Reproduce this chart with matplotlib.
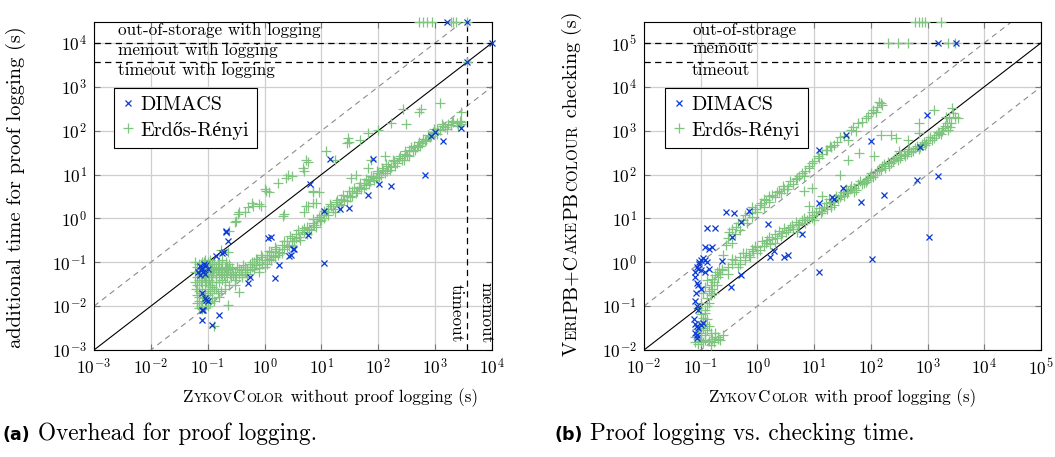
import numpy as np
import matplotlib
matplotlib.use("Agg")
import matplotlib.pyplot as plt
import matplotlib.transforms as mtransforms
from matplotlib.lines import Line2D

plt.rcParams["font.family"] = ["cmr10", "Liberation Serif"]
plt.rcParams["mathtext.fontset"] = "cm"
plt.rcParams["axes.formatter.use_mathtext"] = True

GREEN = "#7fc47f"
BLUE = "#0b3bd4"

# limits (s): timeout / memout / out-of-storage rows
TIMEOUT_A, MEMOUT_A, OOS_A = 3600, 1e4, 3e4
TIMEOUT_B, MEMOUT_B, OOS_B = 36000, 1e5, 3e5

# ---- (a) x: ZykovColor without logging, y: extra time with logging ----
er_a = [
    # dense cluster at small instances
    (0.06, 0.1), (0.065, 0.08), (0.06, 0.06), (0.065, 0.045), (0.06, 0.035), (0.062, 0.025),
    (0.065, 0.018), (0.07, 0.013), (0.075, 0.01), (0.08, 0.0085), (0.09, 0.009), (0.1, 0.01),
    (0.11, 0.012), (0.12, 0.015), (0.1, 0.02), (0.09, 0.025), (0.08, 0.03), (0.07, 0.04),
    (0.075, 0.055), (0.085, 0.045), (0.095, 0.035), (0.11, 0.03), (0.13, 0.025), (0.15, 0.02),
    (0.17, 0.022), (0.14, 0.035), (0.12, 0.045), (0.1, 0.055), (0.09, 0.07), (0.1, 0.085),
    (0.12, 0.075), (0.14, 0.06), (0.16, 0.05), (0.18, 0.04), (0.2, 0.035), (0.22, 0.045),
    (0.19, 0.06), (0.17, 0.075), (0.15, 0.09), (0.13, 0.1), (0.2, 0.08), (0.23, 0.065),
    (0.25, 0.055), (0.28, 0.05), (0.3, 0.06), (0.27, 0.075), (0.24, 0.09), (0.21, 0.1),
    (0.18, 0.11), (0.11, 0.11), (0.085, 0.1), (0.07, 0.09), (0.072, 0.07), (0.078, 0.02),
    (0.085, 0.015), (0.095, 0.013), (0.13, 0.013), (0.16, 0.016), (0.2, 0.025), (0.24, 0.03),
    (0.13, 0.0036), (0.23, 0.0104), (0.36, 0.021), (0.3, 0.03), (0.5, 0.045), (0.8, 0.06),
    (0.065, 0.03), (0.07, 0.022), (0.075, 0.035), (0.08, 0.05), (0.085, 0.06), (0.09, 0.04),
    (0.095, 0.05), (0.1, 0.03), (0.105, 0.04), (0.11, 0.065), (0.115, 0.05), (0.12, 0.035),
    (0.125, 0.06), (0.13, 0.07), (0.14, 0.045), (0.15, 0.065), (0.16, 0.035), (0.17, 0.055),
    (0.18, 0.07), (0.19, 0.05), (0.21, 0.06), (0.22, 0.08), (0.25, 0.07), (0.26, 0.045),
    (0.07, 0.016), (0.08, 0.012), (0.09, 0.016), (0.1, 0.018), (0.11, 0.022), (0.12, 0.028),
    (0.14, 0.025), (0.075, 0.075), (0.08, 0.1), (0.09, 0.11), (0.1, 0.1), (0.12, 0.09),
    (0.14, 0.08), (0.16, 0.1), (0.065, 0.012), (0.07, 0.009),
    # main band
    (0.32, 0.045), (0.35, 0.055), (0.38, 0.065), (0.33, 0.08), (0.4, 0.05), (0.45, 0.06),
    (0.5, 0.07), (0.42, 0.085), (0.55, 0.09), (0.6, 0.08), (0.65, 0.1), (0.7, 0.085),
    (0.75, 0.12), (0.8, 0.1), (0.9, 0.13), (1.0, 0.11), (1.0, 0.08), (1.1, 0.15), (1.2, 0.12),
    (1.3, 0.17), (1.4, 0.14), (1.6, 0.2), (1.8, 0.17), (2.0, 0.25), (2.2, 0.2), (2.5, 0.3),
    (2.7, 0.24), (3.0, 0.35), (3.3, 0.3), (3.6, 0.45), (4.0, 0.38), (4.5, 0.55), (5.0, 0.48),
    (5.5, 0.65), (6.0, 0.57), (7.0, 0.8), (7.5, 0.7), (8.5, 0.95), (9.5, 0.85), (10, 1.2),
    (11, 1.0), (12, 1.4), (13, 1.6), (15, 1.9), (16, 1.6), (18, 2.4), (20, 2.1), (22, 2.8),
    (25, 2.6), (28, 3.3), (32, 3.0), (35, 4.2), (40, 3.8), (45, 5.2), (50, 4.6), (55, 6.5),
    (60, 5.8), (65, 7.5), (72, 7.0), (80, 9), (90, 8.5), (100, 11), (110, 10), (120, 13),
    (140, 12), (150, 16), (170, 15), (190, 20), (210, 18), (230, 24), (260, 22), (290, 30),
    (320, 28), (350, 36), (400, 34), (430, 45), (480, 42), (520, 55), (580, 52), (620, 65),
    (700, 62), (750, 80), (850, 75), (900, 95), (1000, 90), (1100, 110), (1200, 105),
    (1350, 125), (1500, 120), (1700, 140), (1900, 135), (2100, 155), (2400, 150), (2700, 170),
    (2900, 145), (2800, 265), (2900, 155),
    (0.3, 0.04), (0.35, 0.07), (0.4, 0.045), (0.45, 0.08), (0.5, 0.055), (0.55, 0.065),
    (0.6, 0.1), (0.65, 0.07), (0.7, 0.12), (0.8, 0.075), (0.85, 0.15), (0.9, 0.09), (1.1, 0.09),
    (1.2, 0.18), (1.3, 0.11), (1.5, 0.13), (1.5, 0.22), (1.7, 0.15), (2.0, 0.16), (2.2, 0.3),
    (2.5, 0.22), (2.8, 0.4), (3.0, 0.25), (3.5, 0.35), (3.8, 0.55), (4.2, 0.32), (5, 0.6),
    (5.5, 0.45), (6.5, 0.55), (7, 0.95), (8, 0.65), (9, 1.1), (10, 0.9), (11, 1.5), (13, 1.2),
    (14, 2.1), (17, 1.4), (19, 2.6), (22, 2.0), (24, 3.4), (28, 2.5), (30, 4.2), (35, 3.2),
    (38, 5), (42, 4.2), (48, 6.5), (55, 5), (60, 8), (68, 6.2), (75, 9.5), (85, 7.5), (95, 12),
    (105, 9), (115, 14), (130, 11), (135, 17), (160, 13), (180, 22), (200, 16), (240, 27),
    (280, 21), (300, 34), (340, 26), (380, 42), (450, 36), (500, 48), (550, 45), (650, 58),
    (800, 70), (950, 110), (1100, 85), (1300, 140), (1600, 110), (2000, 170), (2500, 130),
    # upper group (logging expensive)
    (270, 310), (530, 270), (565, 310), (1240, 420), (310, 145), (170, 148), (98, 105),
    (66, 89), (29, 68), (31, 55), (28, 52), (47, 62), (12, 34), (17, 22), (5.4, 22), (5.8, 19),
    (4.7, 14), (5, 12), (2.6, 10), (3, 9.3), (2.4, 8.5), (1.7, 6.5), (1.0, 4.6), (1.2, 3.9),
    (7, 3.9), (0.59, 2.3), (0.63, 1.95), (0.51, 1.8), (0.87, 1.95), (0.45, 1.4), (0.34, 1.26),
    (0.3, 0.81), (2.2, 1.26), (5.8, 1.95), (8.1, 2.3), (33, 8.5), (41, 10), (66, 14), (75, 22),
    (129, 26), (1.07, 4.3), (0.81, 2.1), (0.36, 1.4), (0.32, 0.89), (0.24, 0.52), (0.23, 0.17),
    (0.17, 0.19), (2.1, 1.15), (5.4, 1.9), (7, 2.3), (5, 1.4), (9.1, 3.9), (7.1, 4.3),
    # timeout / memout / out-of-storage
    (3600, 3600), (3600, OOS_A), (520, OOS_A), (620, OOS_A), (730, OOS_A), (880, OOS_A),
    (1900, OOS_A), (2100, OOS_A), (2300, OOS_A),
]
dimacs_a = [
    (0.068, 0.059), (0.072, 0.081), (0.075, 0.065), (0.078, 0.07), (0.08, 0.075), (0.083, 0.06),
    (0.085, 0.09), (0.089, 0.054), (0.095, 0.087), (0.1, 0.07), (0.074, 0.05), (0.08, 0.02),
    (0.09, 0.015), (0.1, 0.013), (0.095, 0.0135), (0.078, 0.008), (0.083, 0.0083),
    (0.078, 0.0049), (0.16, 0.0062), (0.12, 0.0038), (0.14, 0.14), (0.19, 0.17), (0.21, 0.52),
    (0.23, 0.3), (0.18, 0.16), (0.21, 0.49), (0.55, 0.047), (0.51, 0.034), (1.55, 0.044),
    (1.8, 0.087), (2.7, 0.14), (3.2, 0.2), (1.15, 0.36), (11, 0.096), (5.8, 0.41), (6.3, 6.0),
    (1.3, 0.37), (3.3, 0.2), (2.9, 0.15), (11, 1.5), (14, 23), (80, 23), (105, 6.0), (170, 5.6),
    (66, 3.4), (670, 9.8), (1000, 95), (850, 76), (1400, 57), (2900, 115), (21, 1.6), (31, 1.7),
    (3600, 3600), (MEMOUT_A, MEMOUT_A), (1600, OOS_A), (3600, OOS_A),
]

# ---- (b) x: ZykovColor with logging, y: checking time ----
er_b = [
    # bottom cluster
    (0.08, 0.015), (0.09, 0.014), (0.1, 0.016), (0.11, 0.015), (0.12, 0.017), (0.14, 0.016),
    (0.16, 0.018), (0.18, 0.02), (0.08, 0.02), (0.09, 0.022), (0.1, 0.025), (0.12, 0.022),
    (0.13, 0.028), (0.15, 0.024), (0.085, 0.03), (0.095, 0.035), (0.11, 0.032), (0.12, 0.04),
    (0.14, 0.035), (0.1, 0.045), (0.11, 0.055), (0.13, 0.05), (0.1, 0.065), (0.12, 0.07),
    (0.09, 0.018), (0.17, 0.015), (0.2, 0.018), (0.22, 0.017), (0.25, 0.022), (0.18, 0.025),
    (0.15, 0.013), (0.2, 0.02),
    # vertical column
    (0.12, 0.08), (0.13, 0.1), (0.14, 0.12), (0.13, 0.15), (0.15, 0.18), (0.14, 0.22),
    (0.16, 0.25), (0.15, 0.3), (0.17, 0.35), (0.16, 0.42), (0.18, 0.5), (0.2, 0.45), (0.19, 0.6),
    (0.22, 0.55), (0.21, 0.7), (0.24, 0.65), (0.1, 0.12), (0.11, 0.2), (0.12, 0.28),
    (0.13, 0.4), (0.17, 0.2), (0.19, 0.3), (0.09, 0.09),
    # main band
    (0.24, 0.69), (0.3, 0.8), (0.35, 0.9), (0.4, 1.1), (0.5, 1.3), (0.62, 1.66), (0.7, 1.5),
    (0.8, 2.0), (0.9, 2.4), (1.0, 2.2), (1.2, 3.1), (1.4, 2.8), (1.6, 3.8), (1.8, 3.4),
    (2.0, 4.5), (2.4, 5.2), (2.7, 4.6), (3.0, 6), (3.5, 5.5), (4, 7), (4.8, 8.1), (5.5, 7.5),
    (6.5, 10), (7.5, 9), (9.3, 13.7), (10, 12), (12, 17), (14, 15), (16, 22), (18, 28),
    (20, 24), (24, 32), (28, 30), (32, 40), (36, 47), (40, 42), (45, 55), (50, 50), (60, 62),
    (70, 60), (81, 67), (90, 85), (100, 110), (120, 100), (140, 135), (160, 155), (180, 140),
    (200, 190), (230, 180), (260, 230), (300, 210), (340, 280), (400, 260), (450, 340),
    (520, 320), (600, 400), (700, 380), (800, 500), (900, 470), (1000, 620), (1200, 600),
    (1400, 800), (1600, 890), (1800, 1000), (2000, 1300), (2400, 1900), (2200, 1500),
    (3000, 2000), (0.5, 0.9), (1, 1.6), (2, 2.8), (5, 5), (10, 9), (20, 18), (50, 40),
    (0.3, 0.55), (0.35, 1.2), (0.45, 0.8), (0.55, 1.6), (0.6, 1.1), (0.75, 1.3), (0.85, 1.8),
    (1.1, 1.9), (1.3, 2.3), (1.5, 3.2), (1.7, 2.6), (2.2, 3.6), (2.6, 4.0), (3.2, 5.0),
    (3.8, 6.5), (4.3, 5.8), (5.2, 7), (6, 9), (7, 8), (8, 11), (9, 10), (11, 14), (13, 13),
    (15, 18), (17, 16), (19, 22), (22, 20), (26, 27), (30, 35), (34, 33), (38, 38), (43, 48),
    (55, 45), (65, 70), (75, 65), (85, 75), (95, 95), (110, 90), (130, 120), (150, 130),
    (170, 170), (210, 160), (250, 200), (280, 250), (320, 240), (380, 300), (430, 290),
    (480, 380), (560, 350), (650, 450), (750, 430), (850, 560), (950, 520), (1100, 700),
    (1300, 680), (1500, 950), (1700, 850), (1900, 1150), (2600, 1500), (2800, 2500),
    (2500, 1200),
    # between the bands
    (6.6, 43), (9.3, 50), (14, 32), (8.1, 19), (28, 100), (39, 220), (62, 310), (115, 260),
    (150, 810), (225, 810), (275, 680), (450, 620), (315, 340), (710, 870), (710, 1480),
    (1300, 2950), (2100, 2100), (2750, 3240), (3400, 1900), (2250, 1050),
    # upper band
    (150, 4200), (100, 2500), (81, 1900), (44, 1050), (39, 620), (22, 480), (16, 370),
    (11.5, 260), (9.3, 185), (8.1, 142), (5.4, 93), (4.8, 80), (3.4, 55), (2.4, 43), (1.6, 32),
    (1.15, 23), (0.81, 18), (0.36, 5.7), (0.32, 4.8), (0.45, 8), (0.6, 12), (1.3, 27),
    (3.0, 47), (7, 120), (20, 420), (60, 1500), (130, 3500),
    (0.25, 1.5), (0.28, 2.5), (0.3, 3.5), (0.35, 2.8), (0.4, 4.5), (0.42, 6.5), (0.5, 5.5),
    (0.55, 9), (0.65, 8), (0.7, 13), (0.8, 11), (0.9, 16), (1.0, 14), (1.1, 20), (1.3, 18),
    (1.4, 26), (1.6, 24), (1.8, 35), (2.0, 30), (2.2, 40), (2.6, 38), (2.8, 55), (3.3, 48),
    (3.8, 70), (4.2, 62), (5, 85), (6, 110), (6.5, 95), (8, 160), (10, 200), (12, 240),
    (14, 300), (17, 360), (19, 450), (25, 560), (28, 700), (33, 750), (48, 1200), (55, 1000),
    (70, 1600), (90, 2200), (110, 3000), (125, 2700), (160, 3800), (140, 4500),
    # memout / out-of-storage
    (200, MEMOUT_B), (300, MEMOUT_B), (460, MEMOUT_B), (2300, MEMOUT_B), (3100, MEMOUT_B),
    (600, OOS_B), (700, OOS_B), (800, OOS_B), (900, OOS_B), (1700, OOS_B),
]
dimacs_b = [
    (12, 355), (36, 810), (100, 575), (960, 2300), (22, 28), (170, 34), (660, 74), (1500, 95),
    (1070, 3.7), (730, 430), (105, 1.17), (12, 0.6), (66, 24), (32, 49), (21, 30), (12, 23),
    (6.2, 4.4), (3.0, 1.35), (3.4, 1.45), (1.65, 1.3), (1.95, 1.8), (1.55, 7.4), (0.34, 0.28),
    (0.51, 0.5), (0.24, 1.07), (0.35, 3.7), (0.51, 8.3), (0.71, 15), (0.28, 14), (0.39, 13),
    (0.13, 6.2), (0.18, 6.2), (0.12, 2.2), (0.14, 2.0), (0.16, 2.2), (0.093, 1.0), (0.1, 1.1),
    (0.11, 1.26), (0.12, 1.15), (0.13, 1.0), (0.095, 0.9), (0.09, 0.7), (0.1, 0.65),
    (0.12, 0.6), (0.14, 0.7), (0.087, 0.34), (0.09, 0.3), (0.1, 0.24), (0.08, 0.13),
    (0.085, 0.1), (0.09, 0.08), (0.08, 0.04), (0.085, 0.035), (0.09, 0.032), (0.1, 0.038),
    (0.11, 0.042), (0.075, 0.05), (0.08, 0.6), (0.085, 0.8), (0.078, 0.45), (0.082, 0.2),
    (0.078, 0.025), (0.085, 0.022), (0.085, 0.019),
    (1550, MEMOUT_B), (3200, MEMOUT_B),
]

FIG_W, FIG_H = 1055, 457
fig = plt.figure(figsize=(FIG_W / 100, FIG_H / 100), dpi=100)
R = fig.canvas.get_renderer()


def px_box(x0, x1, top, bottom):
    return [x0 / FIG_W, 1 - bottom / FIG_H, (x1 - x0) / FIG_W, (bottom - top) / FIG_H]


def fit(t, target, vertical=False):
    # scale a text so that its rendered length matches the reference (pixels)
    bb = t.get_window_extent(R)
    w = bb.height if vertical else bb.width
    t.set_fontsize(t.get_fontsize() * target / w)
    return t.get_fontsize()


def setup(ax, xlim, ylim):
    ax.set_xscale("log")
    ax.set_yscale("log")
    ax.set_xlim(*xlim)
    ax.set_ylim(*ylim)
    ax.grid(True, which="major", color="#cfcfcf", linewidth=0.9)
    ax.minorticks_off()
    ax.tick_params(which="major", direction="in", top=True, right=True, length=4,
                   width=0.8, color="#777777", labelsize=12.5, pad=5)
    for s in ax.spines.values():
        s.set_linewidth(0.8)
    lims = np.array([xlim[0], xlim[1] * 10])
    ax.plot(lims, lims, color="black", lw=0.8, zorder=2)
    ax.plot(lims, lims * 10, color="#8c8c8c", lw=0.8, dashes=(5, 4), zorder=2)
    ax.plot(lims, lims / 10, color="#8c8c8c", lw=0.8, dashes=(5, 4), zorder=2)


def scatter(ax, er, dim):
    ex, ey = np.array(er).T
    dx, dy = np.array(dim).T
    ax.plot(ex, ey, ls="none", marker="+", ms=7.5, mew=0.9, color=GREEN, clip_on=False, zorder=3)
    ax.plot(dx, dy, ls="none", marker="x", ms=5, mew=0.9, color=BLUE, clip_on=False, zorder=4)


def legend(ax, anchor):
    handles = [
        Line2D([], [], ls="none", marker="x", ms=5, mew=0.9, color=BLUE),
        Line2D([], [], ls="none", marker="+", ms=7.5, mew=0.9, color=GREEN),
    ]
    leg = ax.legend(handles, ["DIMACS", "Erdős-Rényi"], loc="upper left", bbox_to_anchor=anchor,
                    fontsize=14.5, fancybox=False, edgecolor="black", framealpha=1,
                    handlelength=0.6, handletextpad=0.3, borderpad=0.4, labelspacing=0.38,
                    borderaxespad=0)
    leg.get_frame().set_linewidth(0.8)
    leg.set_zorder(6)


def pieces_text(parts, cx, cy, target, rotation=0, gap=0.8):
    # mixed-size pieces (small caps), centred on a pixel point, scaled to target length
    ident = mtransforms.IdentityTransform()
    arts = [fig.text(0, 0, s, fontsize=sz, rotation=rotation, rotation_mode="anchor",
                     ha="left", va="baseline", transform=ident) for s, sz in parts]

    def lengths():
        out = []
        for t in arts:
            bb = t.get_window_extent(R)
            out.append(bb.width if rotation == 0 else bb.height)
        return out

    scale = target / (sum(lengths()) + gap * (len(arts) - 1))
    for t in arts:
        t.set_fontsize(t.get_fontsize() * scale)
    sizes = lengths()
    total = sum(sizes) + gap * (len(sizes) - 1)
    pos = (cx if rotation == 0 else cy) - total / 2
    for t, w in zip(arts, sizes):
        t.set_position((pos, cy) if rotation == 0 else (cx, pos))
        pos += w + gap


BIG, SMALL = 12.5, 9.3

# ---------------- panel (a) ----------------
ax1 = fig.add_axes(px_box(94, 492, 22, 350))
setup(ax1, (1e-3, 1e4), (1e-3, OOS_A))
ax1.axhline(MEMOUT_A, color="black", lw=0.9, dashes=(5, 3.5), zorder=2)
ax1.axhline(TIMEOUT_A, color="black", lw=0.9, dashes=(5, 3.5), zorder=2)
ax1.axvline(TIMEOUT_A, color="black", lw=0.9, dashes=(5, 3.5), zorder=2)
scatter(ax1, er_a, dimacs_a)
t0 = ax1.text(0.06, 0.961, "out-of-storage with logging", transform=ax1.transAxes, fontsize=11.3, va="baseline")
LABEL = fit(t0, 203)
ax1.text(0.06, 0.900, "memout with logging", transform=ax1.transAxes, fontsize=LABEL, va="baseline")
ax1.text(0.06, 0.839, "timeout with logging", transform=ax1.transAxes, fontsize=LABEL, va="baseline")
tr = mtransforms.blended_transform_factory(ax1.transData, ax1.transAxes)
ax1.text(2400, 0.022, "timeout", transform=tr, rotation=-90, fontsize=LABEL, ha="center", va="bottom")
ax1.text(7900, 0.022, "memout", transform=tr, rotation=-90, fontsize=LABEL, ha="center", va="bottom")
legend(ax1, (0.05, 0.80))

# ---------------- panel (b) ----------------
ax2 = fig.add_axes(px_box(644, 1041, 22, 350))
setup(ax2, (1e-2, 1e5), (1e-2, OOS_B))
ax2.axhline(MEMOUT_B, color="black", lw=0.9, dashes=(5, 3.5), zorder=2)
ax2.axhline(TIMEOUT_B, color="black", lw=0.9, dashes=(5, 3.5), zorder=2)
scatter(ax2, er_b, dimacs_b)
ax2.text(0.121, 0.961, "out-of-storage", transform=ax2.transAxes, fontsize=LABEL, va="baseline")
ax2.text(0.121, 0.905, "memout", transform=ax2.transAxes, fontsize=LABEL, va="baseline")
ax2.text(0.121, 0.839, "timeout", transform=ax2.transAxes, fontsize=LABEL, va="baseline")
legend(ax2, (0.053, 0.80))

# ---------------- axis labels ----------------
zykov = [("Z", BIG), ("YKOV", SMALL), ("C", BIG), ("OLOR", SMALL)]
pieces_text(zykov + [(" without proof logging (s)", BIG)], 330, FIG_H - 402, 295)
pieces_text(zykov + [(" with proof logging (s)", BIG)], 842, FIG_H - 402, 269)
pieces_text([("additional time for proof logging (s)", BIG)], 21, FIG_H - 187, 322, rotation=90)
pieces_text([("V", BIG), ("ERI", SMALL), ("PB+C", BIG), ("AKE", SMALL), ("PB", BIG),
             ("COLOUR", SMALL), (" checking (s)", BIG)], 577, FIG_H - 184, 346, rotation=90)

# ---------------- captions ----------------
fig.text(3 / FIG_W, 1 - 440 / FIG_H, "(a)", family="DejaVu Sans", weight="bold",
         fontsize=12.5, va="baseline")
fig.text(555 / FIG_W, 1 - 440 / FIG_H, "(b)", family="DejaVu Sans", weight="bold",
         fontsize=12.5, va="baseline")
cap = fig.text(38 / FIG_W, 1 - 440 / FIG_H, "Overhead for proof logging.", fontsize=12.5, va="baseline")
CAP = fit(cap, 280)
fig.text(590 / FIG_W, 1 - 440 / FIG_H, "Proof logging vs. checking time.", fontsize=CAP, va="baseline")

fig.savefig("out.png", dpi=100)
